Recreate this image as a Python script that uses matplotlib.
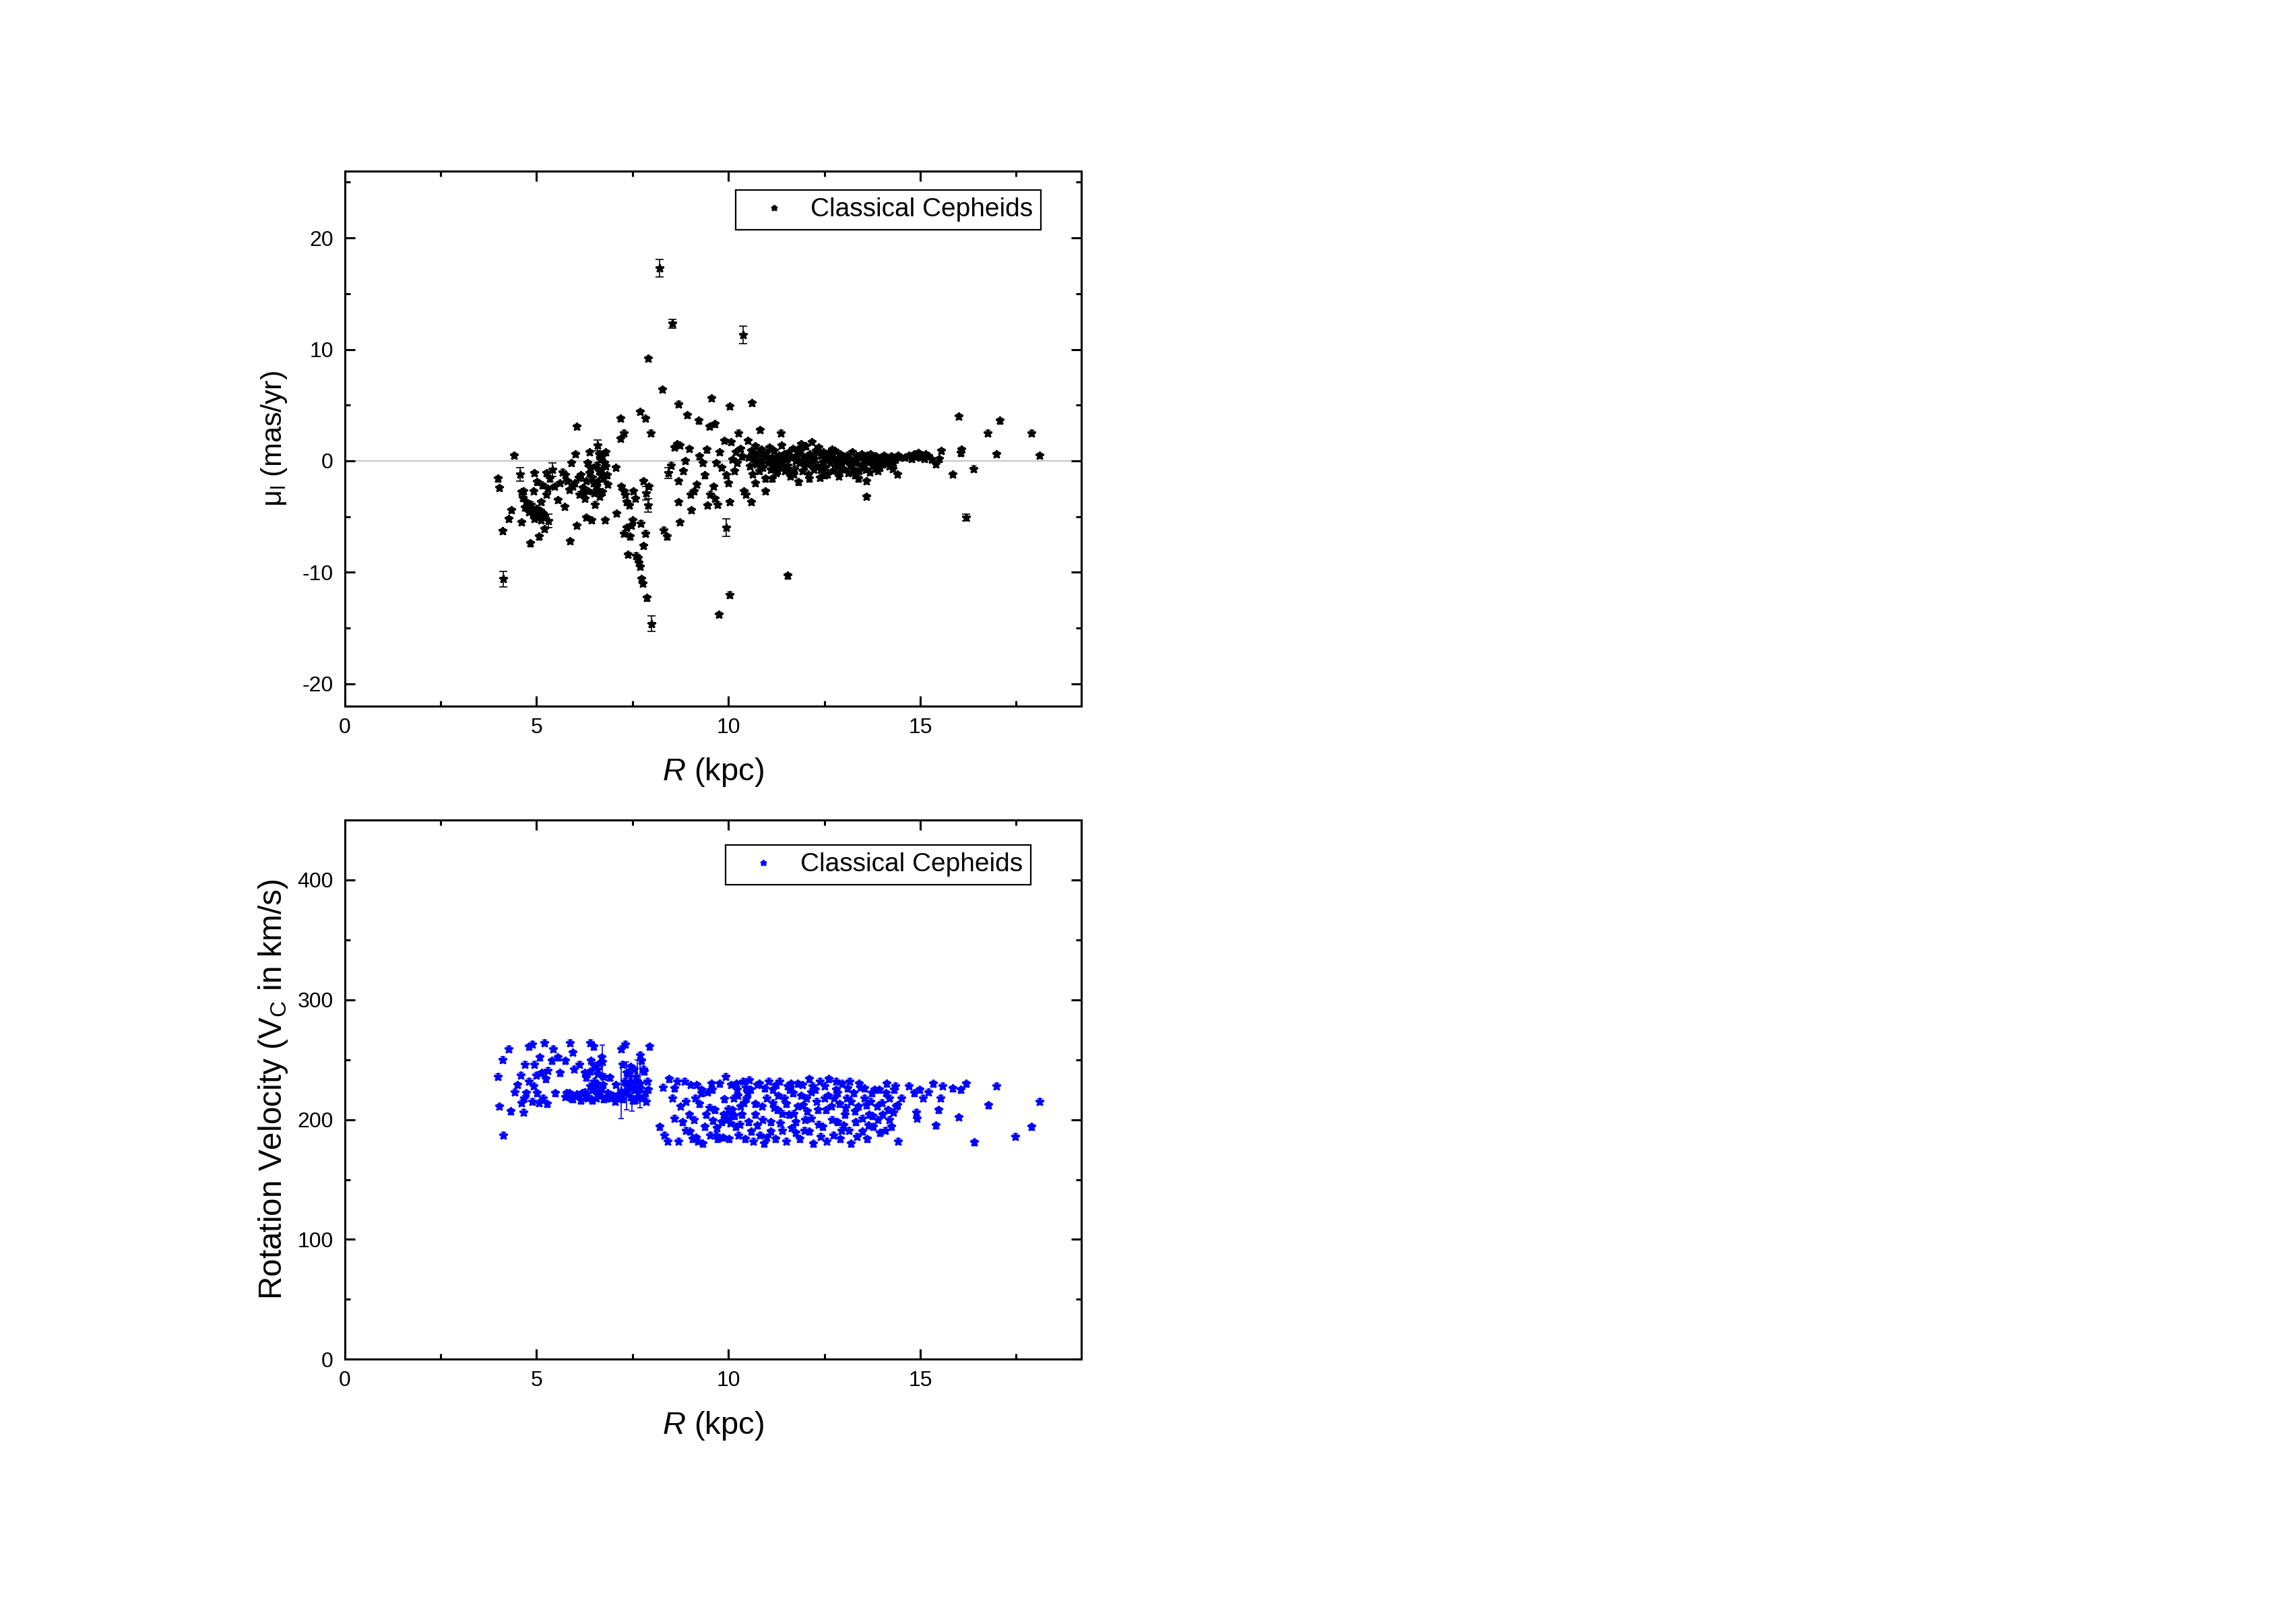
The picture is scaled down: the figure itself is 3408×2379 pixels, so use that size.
import numpy as np
import matplotlib
matplotlib.use("Agg")
import matplotlib.pyplot as plt
from matplotlib.ticker import MultipleLocator

plt.rcParams["font.family"] = ["Liberation Sans", "DejaVu Sans"]
plt.rcParams["mathtext.fontset"] = "custom"
plt.rcParams["mathtext.rm"] = "Liberation Sans"
plt.rcParams["mathtext.it"] = "Liberation Sans:italic"
plt.rcParams["axes.unicode_minus"] = False

# ---- top panel: proper motion mu_l (mas/yr) vs R (kpc), pairs (R, mu) ----
TOP_INNER = [
    (3.99, -1.6), (4.03, -2.4), (4.12, -6.3), (4.28, -5.2), (4.34, -4.4), (4.42, 0.5),
    (4.60, -5.5), (4.66, -2.7), (4.73, -3.7), (4.76, -4.0), (4.83, -7.4), (4.88, -4.4),
    (4.92, -2.7), (4.95, -1.1), (5.02, -1.9), (5.04, -4.7), (5.07, -6.8), (5.11, -3.7),
    (5.17, -4.7), (5.21, -6.1), (5.25, -1.1), (5.46, -2.3), (5.56, -3.5), (5.73, -4.1),
    (5.75, -1.3), (5.87, -7.2), (5.90, -0.2), (5.94, -2.3), (6.01, 0.6), (6.05, -5.8),
    (6.16, -1.3), (6.11, -3.0), (6.26, -3.4), (6.29, -5.1), (6.33, -0.2), (6.38, 0.8),
    (6.43, -5.3), (6.48, -2.0), (6.52, -3.9), (6.55, -2.3), (6.62, -0.9), (6.67, 0.1),
    (6.71, -2.8), (6.77, -0.2), (6.78, -5.3), (6.80, 0.8), (6.83, -1.3),
    (4.70, -4.2), (4.80, -4.6), (4.85, -3.9), (4.90, -4.8), (5.00, -4.3), (5.05, -5.0),
    (5.10, -4.5), (5.15, -2.2), (5.20, -4.9), (5.25, -3.0), (4.60, -2.8), (4.65, -3.3),
    (5.80, -1.8), (5.85, -2.6), (6.00, -2.0), (6.10, -1.5), (6.20, -2.4), (6.30, -1.8),
    (6.35, -2.7), (6.40, -0.6), (6.45, -1.5), (6.50, -2.9), (6.55, -0.4), (6.60, -1.9),
    (6.65, -3.2), (6.70, -0.8), (6.75, -1.6), (6.80, -0.5), (6.85, -2.1), (6.04, 3.1),
    (4.95, -5.2), (5.12, -5.3), (5.30, -2.5), (5.35, -1.6), (5.60, -2.0), (5.68, -1.0),
    (6.22, -2.9), (6.38, -1.1), (6.58, -2.6), (6.68, -1.3), (6.72, 0.4), (6.62, 0.6),
]
TOP_MID = [
    (7.06, -0.6), (7.09, -4.7), (7.20, -2.3), (7.28, -2.7), (7.32, -3.0), (7.35, -3.7),
    (7.38, -8.4), (7.41, -4.0), (7.44, -6.8), (7.47, -5.8), (7.50, -5.3), (7.53, -2.7),
    (7.57, -3.4), (7.60, -8.5), (7.64, -8.7), (7.67, -9.1), (7.70, -9.5), (7.73, -10.6),
    (7.76, -11.0), (7.79, -7.6), (7.83, -6.5), (7.93, -2.3), (7.79, -1.8), (7.72, -5.6),
    (7.27, -6.5), (7.35, -6.0), (7.87, -12.3), (7.90, 9.2), (8.28, 6.4), (7.69, 4.4),
    (7.83, 3.8), (7.19, 3.8), (7.28, 2.5), (7.18, 2.0), (7.98, 2.5),
    (8.31, -6.2), (8.40, -6.8), (8.51, -0.4), (8.60, 1.2), (8.66, 1.5), (8.74, 1.4),
    (8.70, -1.8), (8.73, -5.5), (8.69, -3.7), (8.82, -0.9), (8.88, 0.0), (8.98, 1.1),
    (9.04, -4.4), (9.02, -3.0), (9.10, -2.7), (9.17, -2.1), (9.24, 0.4), (9.33, -0.2),
    (9.39, -1.3), (9.43, 1.0), (9.46, -4.0), (9.53, -3.0), (9.61, -2.3), (9.64, -3.4),
    (9.68, -0.2), (9.71, -3.9), (9.77, 0.8), (9.83, -0.6), (9.90, 1.8), (9.94, -1.3),
    (10.00, -2.0), (10.03, -3.7), (10.06, 1.7), (10.10, 0.1), (10.15, -0.9), (10.19, 0.8),
    (10.23, -0.2), (10.31, 1.1), (10.35, 0.4), (10.41, -2.7), (10.45, -3.0), (10.50, 1.8),
    (8.69, 5.1), (8.92, 4.1), (9.65, 3.3), (9.23, 3.6), (9.50, 3.1), (9.56, 5.6),
    (10.03, 4.9), (10.61, 5.2), (10.26, 2.5), (10.82, 2.8), (11.37, 2.5),
    (11.54, -10.3), (10.04, -12.0), (9.75, -13.8),
]
TOP_BAND = [
    (10.52, 0.3), (10.56, -0.5), (10.60, 0.9), (10.63, -1.2), (10.67, 0.2), (10.70, 1.3),
    (10.73, -0.3), (10.77, 0.6), (10.80, -0.9), (10.83, 0.0), (10.86, 1.0), (10.90, -0.6),
    (10.93, 0.4), (10.96, -1.6), (11.00, 0.7), (11.03, -0.2), (11.06, 1.2), (11.10, -0.8),
    (11.13, 0.3), (11.17, -0.4), (11.20, 0.9), (11.24, -1.1), (11.27, 0.1), (11.31, 0.5),
    (11.34, -0.5), (11.38, 1.4), (11.41, -0.1), (11.45, 0.6), (11.48, -0.9), (10.60, -3.7),
    (10.70, -2.0), (10.96, -2.7), (11.14, -1.6), (11.28, -0.9), (11.50, -0.6),
    (11.52, 0.2), (11.55, -0.4), (11.58, 0.8), (11.62, -1.4), (11.65, 0.3), (11.68, 1.1),
    (11.72, -0.7), (11.75, 0.0), (11.78, 0.5), (11.82, -1.9), (11.85, -0.2), (11.88, 0.9),
    (11.92, -0.9), (11.95, 0.4), (11.98, -0.5), (12.02, 1.3), (12.05, 0.1), (12.08, -1.2),
    (12.12, 0.6), (12.15, -0.3), (12.18, 1.7), (12.22, -0.8), (12.25, 0.2), (12.28, 0.9),
    (12.32, -0.4), (12.35, 1.2), (12.38, -1.5), (12.42, 0.5), (12.45, -0.1), (12.48, 0.8),
    (12.52, -0.6), (12.55, 0.3), (12.58, -1.2), (12.62, 0.7), (12.65, -0.2), (12.68, 0.4),
    (12.72, -0.9), (12.75, 0.1), (12.78, 0.9), (12.82, -0.5), (12.85, 0.2), (12.88, -1.4),
    (12.92, 0.6), (12.95, -0.3), (12.98, 0.3), (13.02, -0.8), (13.05, 0.0), (13.08, 0.5),
    (13.12, -1.1), (13.15, 0.2), (13.18, -0.4), (13.22, 0.8), (13.25, -0.7), (13.28, 0.1),
    (13.32, -0.2), (13.35, 0.4), (13.38, -1.6), (13.42, 0.3), (13.45, -0.5), (13.48, 0.6),
    (13.52, -0.3), (13.55, 0.2), (13.58, -0.8), (13.62, 0.5), (13.65, -0.1), (13.68, -1.0),
    (13.72, 0.3), (13.75, -0.4), (13.78, 0.1), (13.82, -0.7), (13.85, 0.4), (13.88, -0.2),
    (13.92, 0.0), (13.95, -0.6), (13.98, 0.3), (14.02, -0.3), (14.05, 0.5), (14.10, -0.1),
    (14.15, 0.2), (14.20, -0.5), (14.25, 0.4), (14.30, -0.2), (14.35, 0.1), (14.40, -1.2),
    (14.45, 0.3), (13.60, -3.2), (13.60, -1.8),
    (14.60, 0.3), (14.70, 0.5), (14.78, 0.2), (14.85, 0.6), (14.90, 0.4), (14.95, 0.7),
    (15.00, 0.3), (15.05, 0.5), (15.10, 0.2), (15.15, 0.6), (15.22, 0.4), (15.30, 0.1),
    (15.40, -0.3), (15.50, 0.2), (15.55, 0.9),
    (10.65, 0.7), (10.88, -0.2), (11.08, 0.2), (11.22, -0.3), (11.44, 0.2), (11.60, -0.9),
    (11.80, 1.0), (12.00, -0.2), (12.20, 0.4), (12.40, -0.8), (12.60, 0.1), (12.80, -0.2),
    (13.00, 0.2), (13.20, -0.1), (13.40, -0.9), (13.70, 0.6), (13.90, -0.9), (14.08, 0.1),
    (14.28, -0.7), (14.42, 0.5), (11.70, -1.2), (12.10, -1.6), (12.50, -1.3), (12.90, -1.1),
    (13.30, -1.3), (11.90, 1.5), (12.30, 0.9), (12.70, 1.0),
]
TOP_OUTER = [
    (16.00, 4.0), (17.07, 3.6), (16.75, 2.5), (17.90, 2.5), (16.99, 0.6), (18.10, 0.5),
    (15.84, -1.2), (16.39, -0.7), (16.05, 0.7), (16.08, 1.0),
]
# points drawn with visibly large error bars: (R, mu, err)
TOP_EB = [
    (8.20, 17.3, 0.8), (8.54, 12.3, 0.4), (10.38, 11.3, 0.8), (8.00, -14.6, 0.7),
    (4.13, -10.6, 0.7), (9.94, -6.0, 0.8), (16.19, -5.1, 0.3), (4.57, -1.2, 0.6),
    (5.41, -0.8, 0.6), (5.31, -5.4, 0.6), (6.59, 1.4, 0.5), (7.86, -2.9, 0.6),
    (7.90, -4.0, 0.6), (8.44, -1.1, 0.5),
]
MU_ERR_TYPICAL = 0.25

# ---- bottom panel: rotation velocity V_C (km/s) vs R (kpc), pairs (R, V) ----
BOT_INNER = [
    (3.99, 236), (4.03, 211), (4.12, 250), (4.13, 187), (4.28, 259), (4.32, 207),
    (4.44, 223), (4.59, 237), (4.60, 214), (4.66, 206), (4.70, 246), (4.73, 222),
    (4.80, 261), (4.88, 263), (4.80, 232), (4.88, 215), (4.95, 246), (5.00, 237),
    (5.02, 222), (5.09, 252), (5.14, 239), (5.17, 218), (5.21, 264), (5.24, 234),
    (5.28, 213), (5.39, 249), (5.44, 259), (5.49, 222), (5.60, 239), (5.75, 249),
    (5.78, 222), (5.87, 264), (5.90, 218), (5.94, 256), (5.98, 242), (6.04, 220),
    (6.11, 246), (6.19, 222), (6.26, 239), (6.33, 218), (6.39, 264), (6.42, 249),
    (6.45, 225), (6.48, 261), (6.51, 232), (6.55, 218), (6.59, 242), (6.62, 222),
    (6.70, 252), (6.74, 229), (6.80, 218), (6.91, 235), (6.99, 220), (7.06, 229),
    (7.13, 218), (7.20, 259), (7.25, 246), (7.31, 263), (7.35, 239), (7.44, 232),
    (7.50, 216), (7.54, 242), (7.58, 225), (7.64, 218), (7.69, 254), (7.74, 249),
    (7.79, 242), (7.83, 222), (7.89, 232), (7.95, 261),
    (5.75, 219), (5.85, 222), (5.95, 217), (6.05, 221), (6.15, 216), (6.25, 223),
    (6.35, 219), (6.45, 216), (6.55, 224), (6.65, 220), (6.75, 217), (6.85, 222),
    (6.95, 218), (7.05, 215), (7.15, 221), (7.25, 217), (7.35, 223), (7.45, 219),
    (7.55, 216), (7.65, 222), (7.75, 218), (7.85, 215), (7.90, 225),
    (6.30, 235), (6.40, 228), (6.50, 245), (6.60, 238), (6.70, 226), (6.40, 240),
    (6.55, 230), (6.65, 247), (6.75, 236), (7.30, 232), (7.40, 238), (7.50, 229),
    (7.60, 236), (7.70, 226), (7.80, 240), (7.45, 244),
    (4.50, 229), (4.68, 218), (4.92, 228), (5.06, 214), (5.30, 241), (5.55, 252),
]
BOT_OUTER = [
    (8.20, 194), (8.30, 227), (8.33, 187), (8.41, 182), (8.46, 234), (8.54, 218),
    (8.59, 201), (8.66, 232), (8.70, 182), (8.75, 211), (8.81, 198), (8.85, 232),
    (8.89, 191), (8.98, 204), (9.02, 229), (9.07, 184), (9.13, 218), (9.17, 229),
    (9.21, 182), (9.29, 222), (9.33, 180), (9.39, 194), (9.42, 204), (9.46, 223),
    (9.53, 187), (9.58, 225), (9.65, 208), (9.68, 187), (9.72, 184), (9.77, 230),
    (9.83, 198), (9.87, 204), (9.93, 236), (9.97, 201), (10.01, 184), (10.06, 229),
    (10.09, 204), (10.13, 218), (10.19, 194), (10.23, 225), (10.26, 187), (10.32, 211),
    (10.38, 232), (10.44, 184), (10.48, 218), (10.52, 198), (10.58, 225), (10.64, 182),
    (10.70, 204), (10.76, 229), (10.82, 187), (10.87, 211), (10.93, 180), (10.99, 218),
    (11.05, 232), (11.11, 198), (11.16, 225), (11.22, 184), (11.28, 208), (11.34, 232),
    (11.40, 191), (11.46, 218), (11.51, 182), (11.57, 204), (11.63, 230), (11.69, 222),
    (11.75, 198), (11.80, 211), (11.86, 184), (11.92, 229), (11.98, 191), (12.04, 218),
    (12.10, 234), (12.15, 201), (12.21, 180), (12.27, 225), (12.33, 208), (12.39, 232),
    (12.45, 194), (12.50, 218), (12.56, 182), (12.62, 234), (12.68, 211), (12.74, 187),
    (12.80, 225), (12.85, 198), (12.91, 184), (12.97, 230), (13.03, 204), (13.09, 218),
    (13.14, 191), (13.20, 180), (13.26, 222), (13.32, 198), (13.38, 211), (13.43, 227),
    (13.49, 201), (13.55, 218), (13.61, 184), (13.67, 204), (13.73, 222), (13.78, 194),
    (13.87, 211), (13.93, 225), (14.02, 204), (14.08, 191), (14.13, 230), (14.19, 218),
    (14.25, 194), (14.31, 225), (14.37, 211), (14.43, 182), (14.51, 218),
    (8.90, 215), (9.10, 200), (9.30, 225), (9.50, 210), (9.70, 193), (9.90, 217),
    (10.10, 208), (10.30, 196), (10.50, 222), (10.70, 213), (10.90, 200), (11.10, 190),
    (11.30, 220), (11.50, 213), (11.70, 205), (11.90, 220), (12.10, 190), (12.30, 215),
    (12.50, 228), (12.70, 200), (12.90, 213), (13.10, 226), (13.30, 207), (13.50, 190),
    (13.70, 215), (13.90, 200), (14.10, 222), (14.30, 206), (9.95, 200), (10.05, 197),
    (10.15, 203), (10.00, 209), (10.40, 214), (10.60, 190), (10.80, 230), (11.00, 185),
    (11.20, 210), (11.60, 225), (12.00, 200), (12.40, 186), (12.60, 220), (12.80, 232),
    (13.00, 195), (13.20, 215), (13.40, 230), (13.60, 212), (13.80, 225), (14.00, 214),
    (14.20, 200), (14.40, 212), (11.80, 230), (12.20, 228), (11.40, 205), (10.20, 230),
    (8.60, 226), (9.00, 190), (9.25, 213), (9.60, 199), (9.85, 185), (10.35, 204),
    (10.55, 233), (10.75, 195), (10.95, 226), (11.15, 214), (11.35, 197), (11.55, 228),
    (11.75, 189), (11.95, 212), (12.15, 223), (12.35, 196), (12.55, 208), (12.75, 218),
    (12.95, 191), (13.15, 232), (13.35, 186), (13.55, 226), (13.75, 203), (13.95, 189),
    (14.15, 208), (14.35, 228), (10.45, 227), (11.25, 229), (12.05, 207), (12.85, 222),
    (13.65, 195), (9.15, 185), (9.55, 230), (10.25, 220), (11.65, 193), (13.05, 210),
]
BOT_FAR = [
    (14.70, 228), (14.85, 222), (14.89, 206), (14.92, 201), (14.99, 225), (15.07, 218),
    (15.21, 223), (15.33, 230), (15.40, 195), (15.47, 208), (15.53, 218), (15.58, 228),
    (15.84, 226), (16.01, 202), (16.05, 225), (16.20, 230), (16.40, 181), (16.77, 212),
    (16.99, 228), (17.47, 186), (17.90, 194), (18.10, 215),
]
BOT_EB = [
    (7.20, 224, 23), (6.72, 248, 14), (7.35, 228, 20), (7.49, 226, 19),
    (7.63, 232, 18), (7.69, 230, 20),
]
V_ERR_TYPICAL = 2.5

LABEL = "Classical Cepheids"
BLUE = "#0000ff"


def unzip(*groups):
    pts = [p for g in groups for p in g]
    return [np.array(c) for c in zip(*pts)]


def style_axes(ax, ymajor):
    ax.xaxis.set_major_locator(MultipleLocator(5))
    ax.xaxis.set_minor_locator(MultipleLocator(2.5))
    ax.yaxis.set_major_locator(MultipleLocator(ymajor))
    ax.yaxis.set_minor_locator(MultipleLocator(ymajor / 2))
    ax.tick_params(which="both", direction="in", top=True, right=True,
                   width=1.1, labelsize=11.5, pad=6)
    ax.tick_params(which="major", length=5.5)
    ax.tick_params(which="minor", length=3)
    for s in ax.spines.values():
        s.set_linewidth(1.1)


def add_legend(ax, anchor):
    leg = ax.legend(loc="upper right", bbox_to_anchor=anchor, borderaxespad=0,
                    fontsize=14, frameon=True, fancybox=False, framealpha=1,
                    edgecolor="black", handlelength=2.3, handletextpad=0.25,
                    borderpad=0.3)
    leg.get_frame().set_linewidth(0.8)


fig = plt.figure(figsize=(17.04, 11.895), dpi=200)
ax1 = fig.add_axes([0.1501, 0.5595, 0.3209, 0.3338])
ax2 = fig.add_axes([0.1501, 0.1520, 0.3209, 0.3365])

# top panel
r, mu = unzip(TOP_INNER, TOP_MID, TOP_BAND, TOP_OUTER)
ax1.axhline(0, color="#c8c8c8", lw=0.8, zorder=0)
ax1.errorbar(r, mu, yerr=MU_ERR_TYPICAL, fmt="*", color="black", ms=4.4,
             elinewidth=0.5, capsize=1.5, capthick=0.5)
r_eb, mu_eb, mu_err = unzip(TOP_EB)
ax1.errorbar(r_eb, mu_eb, yerr=mu_err, fmt="*", color="black", ms=4.4,
             elinewidth=0.6, capsize=2, capthick=0.6)
ax1.plot([], [], "*", color="black", ms=3.2, label=LABEL)
ax1.set_xlim(0, 19.2)
ax1.set_ylim(-22, 26)
style_axes(ax1, 10)
ax1.set_xlabel(r"$\mathit{R}$ (kpc)", fontsize=17, labelpad=10)
ax1.set_ylabel(r"$\mathregular{μ_l}$ (mas/yr)", fontsize=15.5, labelpad=7)
add_legend(ax1, (0.945, 0.965))

# bottom panel
r, v = unzip(BOT_INNER, BOT_OUTER, BOT_FAR)
ax2.errorbar(r, v, yerr=V_ERR_TYPICAL, fmt="*", color=BLUE, ms=4.4,
             elinewidth=0.5, capsize=1.5, capthick=0.5)
r_eb, v_eb, v_err = unzip(BOT_EB)
ax2.errorbar(r_eb, v_eb, yerr=v_err, fmt="*", color=BLUE, ms=4.4,
             elinewidth=0.6, capsize=1.5, capthick=0.6)
ax2.plot([], [], "*", color=BLUE, ms=3.2, label=LABEL)
ax2.set_xlim(0, 19.2)
ax2.set_ylim(0, 450)
style_axes(ax2, 100)
ax2.set_xlabel(r"$\mathit{R}$ (kpc)", fontsize=17, labelpad=10)
ax2.set_ylabel(r"Rotation Velocity ($\mathregular{V_C}$ in km/s)", fontsize=17.2,
               labelpad=4)
add_legend(ax2, (0.931, 0.954))

fig.savefig("out.png", dpi=200)
